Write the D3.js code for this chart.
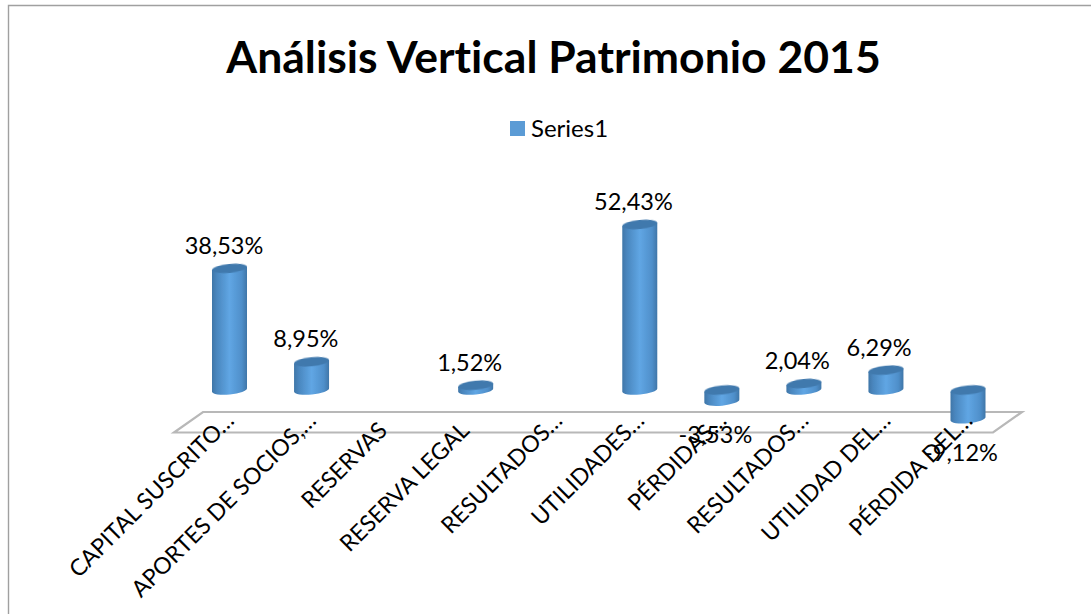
<!DOCTYPE html>
<html><head><meta charset="utf-8">
<script src="https://cdn.jsdelivr.net/npm/d3@7/dist/d3.min.js"></script>
<style>html,body{margin:0;padding:0;background:#fff}svg{display:block}text{font-family:Lato,"Open Sans",sans-serif;fill:#000;font-variant-ligatures:none}</style>
</head><body><svg id="c" width="1091" height="614"></svg>
<script>
const categories=["CAPITAL SUSCRITO…","APORTES DE SOCIOS,…","RESERVAS","RESERVA LEGAL","RESULTADOS…","UTILIDADES…","PÉRDIDAS…","RESULTADOS…","UTILIDAD DEL…","PÉRDIDA DEL…"];
const values=[38.53,8.95,null,1.52,null,52.43,-3.53,2.04,6.29,-9.12];
const seriesName="Series1";
const titleText="Análisis Vertical Patrimonio 2015";

const svg=d3.select("#c");
const defs=svg.append("defs");
const g=defs.append("linearGradient").attr("id","cyl");
[[0,"#3f76a8"],[.14,"#4a87bf"],[.5,"#60a6e4"],[.85,"#4f8fca"],[1,"#3f76a8"]].forEach(([o,c])=>g.append("stop").attr("offset",o).attr("stop-color",c));
const blur=defs.append("filter").attr("id","soft").attr("x","-10%").attr("y","-10%").attr("width","120%").attr("height","120%");
blur.append("feGaussianBlur").attr("stdDeviation",0.7);

const x=d3.scalePoint().domain(d3.range(categories.length)).range([229.5,968]);
const labelX=d3.scalePoint().domain(d3.range(categories.length)).range([224,961]);
const y=d3.scaleLinear().domain([0,52.43]).range([390,224.5]);
const rx=17.5, ry=4.5, dy=1.7;
const rot=-Math.atan2(dy,rx)*180/Math.PI;

svg.append("path").attr("d","M8.5,614V5.5H1091").attr("fill","none").attr("stroke","#a0a0a0").attr("stroke-width",1.4);

svg.append("text").attr("x",553.5).attr("y",73).attr("text-anchor","middle").attr("font-size",44.5).attr("font-weight",700).text(titleText);

svg.append("rect").attr("x",510).attr("y",121).attr("width",15).attr("height",15).attr("fill","#5b9bd5");
svg.append("text").attr("x",531).attr("y",137).attr("font-size",24).text(seriesName);

// floor
svg.append("path").attr("d",d3.line()([[174,432.5],[203,412],[1022,412],[993,432.5]])+"Z").attr("fill","none").attr("stroke","#b8b8b8").attr("stroke-width",2.2).attr("filter","url(#soft)");

// cylinders
const data=values.map((v,i)=>({v,i})).filter(d=>d.v!==null);
const bars=svg.selectAll("g.bar").data(data).join("g").attr("class","bar");
function side(cx,y1,y2){
  const a=Math.min(y1,y2),b=Math.max(y1,y2);
  return `M${cx-rx},${a+dy}L${cx-rx},${b+dy}A${rx},${ry} ${rot} 0 0 ${cx+rx},${b-dy}L${cx+rx},${a-dy}Z`;
}
bars.append("path").attr("d",d=>side(x(d.i),y(0),y(d.v))).attr("fill","url(#cyl)").attr("filter","url(#soft)");
bars.append("ellipse").attr("cx",d=>x(d.i)).attr("cy",d=>Math.min(y(0),y(d.v))).attr("rx",rx).attr("ry",ry)
  .attr("transform",d=>`rotate(${rot} ${x(d.i)} ${Math.min(y(0),y(d.v))})`).attr("fill","#4179ad").attr("filter","url(#soft)");

// value labels
const fmt=v=>d3.format(".2f")(Math.abs(v)).replace(".",",")+"%";
const sign=v=>v<0?"-":"";
svg.selectAll("text.val").data(data).join("text").attr("class","val")
  .attr("x",d=>labelX(d.i)).attr("y",d=>d.v>=0?y(d.v)-14.5:y(d.v)+42)
  .attr("text-anchor","middle").attr("font-size",23.5).text(d=>sign(d.v)+fmt(d.v));

// category labels
svg.selectAll("text.cat").data(categories).join("text").attr("class","cat")
  .attr("transform",(d,i)=>{const t=d.endsWith("…")?1:0;return `translate(${x(i)-5+t*11},${432-t*10}) rotate(-45)`;})
  .attr("text-anchor","end").attr("font-size",23).text(d=>d);
</script></body></html>
